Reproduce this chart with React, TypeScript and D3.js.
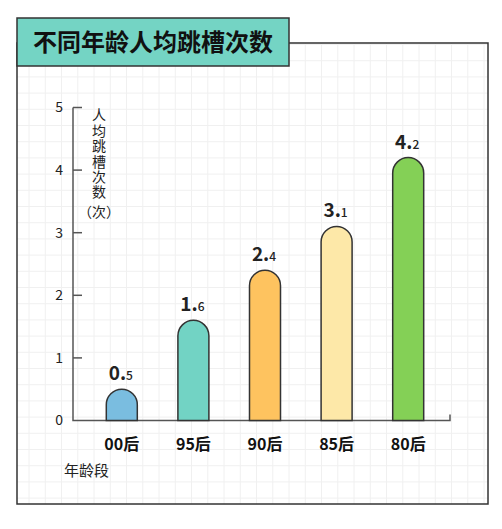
import React, { useEffect, useRef } from "react";
import * as d3 from "d3";

const categories = ["00后", "95后", "90后", "85后", "80后"];
const values = [0.5, 1.6, 2.4, 3.1, 4.2];
const barColors = ["#7abde0", "#72d3c4", "#fec35f", "#fde8a8", "#84d056"];
const yTicks = [0, 1, 2, 3, 4, 5];
const yTitle = "人均跳槽次数";
const yUnit = "（次）";
const title = "不同年龄人均跳槽次数";

const width = 502,
  height = 529;
const font = "'Noto Sans CJK SC', 'Noto Sans', sans-serif";
const frame = { left: 17, top: 43, right: 488, bottom: 504 };

export default function App(): JSX.Element {
  const ref = useRef<SVGSVGElement>(null);

  useEffect(() => {
    if (!ref.current) return;
    const svg = d3.select(ref.current);
    svg.selectAll("*").remove();

    svg.append("rect").attr("width", width).attr("height", height).attr("fill", "#fff");

    // light grid inside the frame
    const grid = svg.append("g").attr("stroke", "#f0f0f0").attr("stroke-width", 1);
    const gx = d3.range(frame.right - 4, frame.left, -16.25);
    const gy = d3.range(frame.top + 1.5, frame.bottom, 16.2);
    grid
      .selectAll("line.v")
      .data(gx)
      .join("line")
      .attr("class", "v")
      .attr("x1", (d) => d)
      .attr("x2", (d) => d)
      .attr("y1", frame.top)
      .attr("y2", frame.bottom);
    grid
      .selectAll("line.h")
      .data(gy)
      .join("line")
      .attr("class", "h")
      .attr("x1", frame.left)
      .attr("x2", frame.right)
      .attr("y1", (d) => d)
      .attr("y2", (d) => d);

    // frame
    svg
      .append("rect")
      .attr("x", frame.left)
      .attr("y", frame.top)
      .attr("width", frame.right - frame.left)
      .attr("height", frame.bottom - frame.top)
      .attr("fill", "none")
      .attr("stroke", "#333")
      .attr("stroke-width", 1.5);

    // title box
    svg
      .append("rect")
      .attr("x", frame.left)
      .attr("y", 18)
      .attr("width", 272)
      .attr("height", 48)
      .attr("fill", "#74d4c4")
      .attr("stroke", "#333")
      .attr("stroke-width", 1.5);
    svg
      .append("text")
      .attr("x", 153)
      .attr("y", 51)
      .attr("text-anchor", "middle")
      .attr("font-family", font)
      .attr("font-size", 24)
      .attr("font-weight", 700)
      .attr("fill", "#111")
      .text(title);

    const x = d3
      .scaleBand()
      .domain(categories)
      .range([86, 444])
      .paddingInner(0.567)
      .paddingOuter(0.2835);

    const y = d3.scaleLinear().domain([0, 5]).range([420.5, 107.5]);

    // axes
    const axis = svg.append("g").attr("stroke", "#555").attr("stroke-width", 1.5).attr("fill", "none");
    axis
      .append("path")
      .attr("d", `M73,${y(5)}V${y(0)}H450V${y(0) - 6}`);
    axis
      .selectAll("line")
      .data(yTicks.filter((t) => t > 0))
      .join("line")
      .attr("x1", 73)
      .attr("x2", 82)
      .attr("y1", (d) => y(d))
      .attr("y2", (d) => y(d));

    svg
      .append("g")
      .selectAll("text")
      .data(yTicks)
      .join("text")
      .attr("x", 63)
      .attr("y", (d) => y(d))
      .attr("dy", "0.35em")
      .attr("text-anchor", "end")
      .attr("font-family", font)
      .attr("font-size", 14)
      .attr("fill", "#222")
      .text((d) => d);

    // vertical y title
    svg
      .append("text")
      .attr("x", 99)
      .attr("y", 108)
      .attr("font-family", font)
      .attr("font-size", 14)
      .attr("fill", "#222")
      .style("writing-mode", "vertical-rl")
      .style("letter-spacing", "1.4px")
      .text(yTitle);
    svg
      .append("text")
      .attr("x", 99)
      .attr("y", 212)
      .attr("dy", "0.35em")
      .attr("text-anchor", "middle")
      .attr("font-family", font)
      .attr("font-size", 14)
      .attr("fill", "#222")
      .text(yUnit);

    // bars with round tops
    const bw = x.bandwidth();
    const barPath = (c: string, v: number) => {
      const x0 = x(c) as number;
      const r = bw / 2;
      const top = y(v);
      const base = y(0);
      return `M${x0},${base}V${top + r}A${r},${r} 0 0 1 ${x0 + bw},${top + r}V${base}Z`;
    };
    svg
      .append("g")
      .selectAll("path")
      .data(categories)
      .join("path")
      .attr("d", (c, i) => barPath(c, values[i]))
      .attr("fill", (c, i) => barColors[i])
      .attr("stroke", "#333")
      .attr("stroke-width", 1.5);

    // value labels: big integer part, small decimals
    const labels = svg
      .append("g")
      .selectAll("text")
      .data(categories)
      .join("text")
      .attr("x", (c) => (x(c) as number) + bw / 2 - 1)
      .attr("y", (c, i) => y(values[i]) - 9)
      .attr("text-anchor", "middle")
      .attr("font-family", font)
      .attr("fill", "#222");
    labels
      .append("tspan")
      .attr("font-size", 19)
      .attr("font-weight", 700)
      .text((c, i) => String(values[i]).split(".")[0] + ".");
    labels
      .append("tspan")
      .attr("font-size", 12)
      .attr("font-weight", 500)
      .text((c, i) => String(values[i]).split(".")[1]);

    // category labels
    svg
      .append("g")
      .selectAll("text")
      .data(categories)
      .join("text")
      .attr("x", (c) => (x(c) as number) + bw / 2)
      .attr("y", 450)
      .attr("text-anchor", "middle")
      .attr("font-family", font)
      .attr("font-size", 16)
      .attr("font-weight", 700)
      .attr("fill", "#111")
      .text((d) => d);

    svg
      .append("text")
      .attr("x", 64)
      .attr("y", 476)
      .attr("font-family", font)
      .attr("font-size", 15)
      .attr("fill", "#222")
      .text("年龄段");
  }, []);

  return (
    <svg
      ref={ref}
      width={width}
      height={height}
      style={{ position: "absolute", left: 0, top: 0, display: "block" }}
    />
  );
}
